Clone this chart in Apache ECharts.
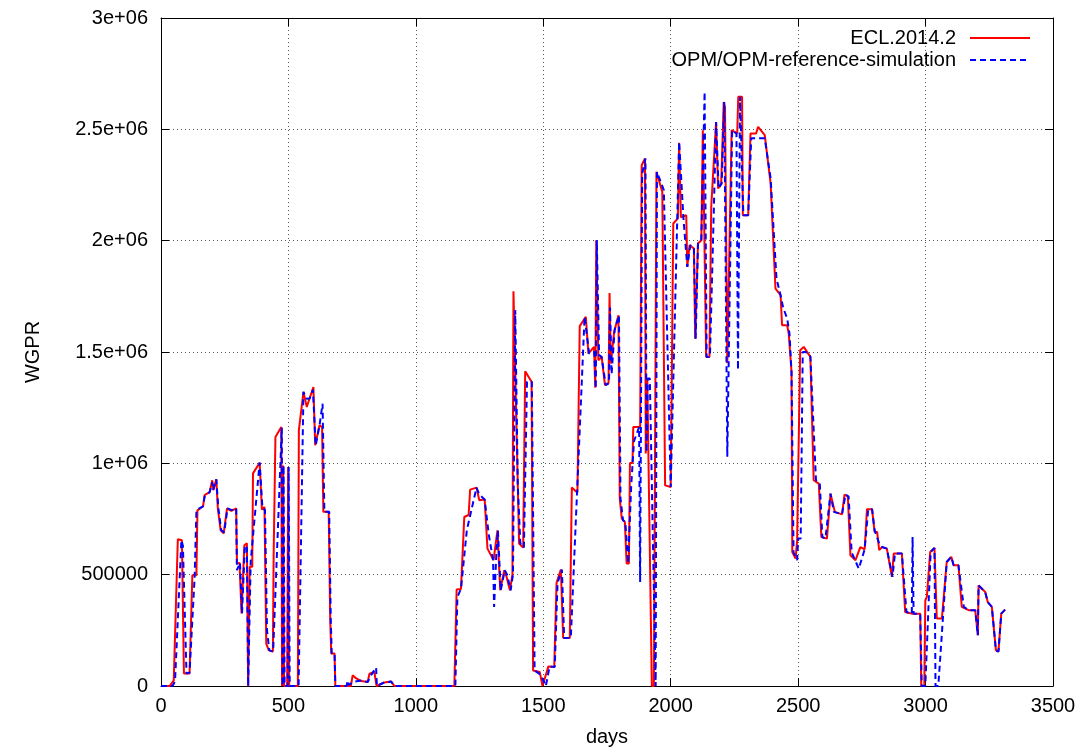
<!DOCTYPE html>
<html><head><meta charset="utf-8">
<script src="https://cdn.jsdelivr.net/npm/echarts@6/dist/echarts.min.js"></script>
<style>html,body{margin:0;padding:0;background:#fff}#c{width:1086px;height:754px}</style>
</head><body><div id="c"></div>
<script>
const seriesNames = ['ECL.2014.2', 'OPM/OPM-reference-simulation'];
const xLabel = 'days';
const yLabel = 'WGPR';
const xTicks = [0, 500, 1000, 1500, 2000, 2500, 3000, 3500];
const yTicks = [0, 500000, 1000000, 1500000, 2000000, 2500000, 3000000];

const ecl = [[0,0],[34,0],[50,25000],[66,659000],[82,655000],[90,56000],[112,56000],[123,497000],[139,497000],[143,789000],[165,807000],[171,857000],[191,871000],[201,924000],[205,880000],[217,928000],[223,798000],[234,699000],[246,686000],[259,798000],[276,786000],[295,798000],[298,551000],[308,553000],[316,326000],[327,632000],[337,641000],[342,0],[348,535000],[358,535000],[361,955000],[387,1003000],[396,792000],[406,804000],[413,190000],[423,160000],[439,155000],[442,587000],[449,1118000],[472,1163000],[475,0],[479,990000],[483,0],[495,0],[499,983000],[503,0],[537,0],[541,1149000],[559,1321000],[572,1253000],[583,1291000],[598,1343000],[605,1081000],[622,1171000],[632,1163000],[637,782000],[658,782000],[664,295000],[668,146000],[681,146000],[684,0],[745,0],[752,48000],[765,35000],[785,22000],[811,18000],[818,55000],[837,63000],[846,0],[876,16000],[903,20000],[916,0],[1151,0],[1160,433000],[1177,436000],[1190,759000],[1207,768000],[1213,882000],[1238,891000],[1249,834000],[1270,838000],[1281,617000],[1288,617000],[1305,565000],[1320,699000],[1331,430000],[1347,520000],[1356,490000],[1369,430000],[1379,500000],[1383,1773000],[1405,640000],[1421,622000],[1429,1414000],[1454,1366000],[1460,70000],[1486,63000],[1497,0],[1520,88000],[1543,85000],[1552,463000],[1569,523000],[1578,216000],[1604,216000],[1612,891000],[1634,868000],[1643,1616000],[1667,1658000],[1677,1493000],[1699,1523000],[1704,1340000],[1708,2002000],[1716,1463000],[1729,1478000],[1742,1351000],[1756,1360000],[1760,1765000],[1765,1448000],[1778,1590000],[1795,1665000],[1800,842000],[1808,752000],[1820,737000],[1827,550000],[1836,550000],[1840,1002000],[1850,1002000],[1853,1163000],[1880,1163000],[1886,2339000],[1899,2369000],[1902,1044000],[1908,1381000],[1915,1381000],[1926,0],[1934,0],[1944,2309000],[1967,2219000],[1978,901000],[2000,894000],[2010,2077000],[2028,2100000],[2033,2440000],[2040,2105000],[2061,2114000],[2065,1882000],[2074,1980000],[2091,1965000],[2096,1560000],[2107,1987000],[2120,2002000],[2126,2496000],[2131,2500000],[2139,1478000],[2152,1478000],[2159,2152000],[2178,2533000],[2186,2234000],[2198,2257000],[2208,2623000],[2213,2600000],[2222,1450000],[2239,2496000],[2261,2481000],[2265,2646000],[2280,2646000],[2283,2114000],[2304,2114000],[2313,2481000],[2335,2481000],[2343,2511000],[2369,2474000],[2392,2257000],[2411,1785000],[2431,1755000],[2437,1620000],[2457,1620000],[2463,1583000],[2474,1411000],[2477,602000],[2490,572000],[2496,654000],[2503,654000],[2508,1508000],[2522,1523000],[2548,1478000],[2561,924000],[2581,909000],[2591,669000],[2613,662000],[2627,864000],[2644,782000],[2672,771000],[2682,860000],[2695,851000],[2705,587000],[2725,565000],[2744,624000],[2761,614000],[2770,794000],[2790,794000],[2800,692000],[2810,692000],[2818,610000],[2829,624000],[2848,617000],[2868,490000],[2875,595000],[2907,595000],[2920,332000],[2946,325000],[2979,325000],[2983,0],[2995,0],[2999,385000],[3005,400000],[3018,602000],[3035,620000],[3044,303000],[3064,303000],[3083,557000],[3101,580000],[3110,542000],[3129,542000],[3142,355000],[3171,340000],[3195,340000],[3205,228000],[3208,452000],[3234,422000],[3244,377000],[3260,355000],[3276,160000],[3286,155000],[3297,325000],[3312,343000]];

const opm = [[0,0],[45,0],[55,20000],[80,655000],[86,630000],[100,56000],[112,60000],[132,490000],[139,790000],[165,807000],[171,850000],[191,871000],[201,915000],[205,880000],[217,928000],[225,800000],[236,700000],[248,690000],[261,798000],[278,790000],[295,798000],[298,520000],[310,553000],[318,326000],[329,632000],[337,620000],[342,0],[352,560000],[387,1003000],[398,800000],[408,790000],[416,250000],[425,160000],[440,155000],[474,1160000],[477,0],[481,990000],[485,0],[497,0],[501,983000],[505,0],[540,0],[559,1321000],[572,1290000],[583,1291000],[596,1330000],[607,1081000],[622,1171000],[634,1268000],[641,782000],[660,782000],[666,300000],[670,146000],[681,146000],[684,0],[728,0],[733,25000],[736,5000],[760,20000],[785,25000],[811,18000],[825,50000],[844,83000],[847,0],[876,16000],[903,20000],[916,0],[1155,0],[1163,400000],[1177,436000],[1200,700000],[1238,891000],[1249,860000],[1270,838000],[1286,680000],[1303,565000],[1307,355000],[1316,600000],[1322,699000],[1333,430000],[1349,520000],[1358,500000],[1372,430000],[1381,500000],[1390,1688000],[1400,900000],[1410,640000],[1424,622000],[1436,1366000],[1455,1366000],[1466,70000],[1490,50000],[1510,0],[1525,88000],[1545,85000],[1556,463000],[1573,523000],[1582,216000],[1608,216000],[1662,1658000],[1680,1493000],[1700,1500000],[1706,1336000],[1710,2002000],[1719,1486000],[1729,1478000],[1745,1351000],[1758,1360000],[1762,1700000],[1768,1400000],[1780,1600000],[1797,1665000],[1803,842000],[1813,744000],[1822,737000],[1833,550000],[1845,900000],[1856,1100000],[1876,1163000],[1880,467000],[1888,2300000],[1901,2369000],[1905,1050000],[1910,1381000],[1918,1381000],[1941,0],[1946,2309000],[1973,2227000],[2000,894000],[2033,2444000],[2050,2100000],[2065,1882000],[2077,1980000],[2091,1965000],[2098,1560000],[2107,1987000],[2120,2002000],[2133,2668000],[2141,1478000],[2154,1478000],[2166,2000000],[2178,2533000],[2188,2234000],[2200,2257000],[2210,2623000],[2222,1030000],[2241,2496000],[2258,2481000],[2264,1420000],[2272,2646000],[2285,2114000],[2304,2114000],[2316,2460000],[2343,2460000],[2369,2460000],[2392,2280000],[2415,1830000],[2431,1755000],[2441,1700000],[2457,1650000],[2466,1583000],[2474,1411000],[2482,600000],[2496,565000],[2500,662000],[2510,662000],[2518,1500000],[2530,1500000],[2548,1480000],[2570,924000],[2585,909000],[2595,669000],[2607,662000],[2627,864000],[2640,782000],[2672,771000],[2686,860000],[2698,851000],[2710,600000],[2738,527000],[2761,614000],[2775,794000],[2790,794000],[2800,700000],[2818,640000],[2829,624000],[2848,617000],[2870,490000],[2880,595000],[2907,595000],[2925,332000],[2946,325000],[2949,669000],[2953,325000],[2979,325000],[2985,0],[2999,0],[3020,602000],[3035,620000],[3039,0],[3050,0],[3083,557000],[3101,580000],[3110,542000],[3129,542000],[3150,355000],[3171,340000],[3195,340000],[3205,228000],[3208,452000],[3234,422000],[3244,377000],[3260,355000],[3276,160000],[3286,155000],[3297,325000],[3312,343000]];

const FONT = 'Liberation Sans, Arial, sans-serif';
function yFmt(v) {
  if (v === 0) return '0';
  if (v < 1000000) return String(v);
  return (v / 1000000) + 'e+06';
}
const tickStyle = {inside: true, length: 8, lineStyle: {color: '#000', width: 1}};
const lineAx = {show: true, onZero: false, lineStyle: {color: '#000', width: 1}};
const grid = {show: true, lineStyle: {color: '#555', width: 1, type: [1, 3]}};

const chart = echarts.init(document.getElementById('c'), null, {renderer: 'canvas'});
chart.setOption({
  animation: false,
  backgroundColor: '#fff',
  grid: {left: 161, right: 33, top: 18, bottom: 68},
  legend: {
    orient: 'vertical', right: 50, top: 23, align: 'right',
    itemWidth: 60, itemHeight: 14, itemGap: 2,
    itemStyle: {opacity: 0},
    textStyle: {fontSize: 20, fontFamily: FONT, color: '#000', padding: [0, 9, 0, 0]},
    data: seriesNames
  },
  xAxis: [
    {type: 'value', min: xTicks[0], max: xTicks[xTicks.length - 1], interval: 500,
     axisLine: lineAx, axisTick: tickStyle, splitLine: grid,
     axisLabel: {color: '#000', fontSize: 20, fontFamily: FONT, margin: 10, formatter: v => String(v)},
     name: xLabel, nameLocation: 'middle', nameGap: 41,
     nameTextStyle: {color: '#000', fontSize: 20, fontFamily: FONT}},
    {type: 'value', position: 'top', min: xTicks[0], max: xTicks[xTicks.length - 1], interval: 500,
     axisLine: lineAx, axisTick: tickStyle, splitLine: {show: false}, axisLabel: {show: false}}
  ],
  yAxis: [
    {type: 'value', min: yTicks[0], max: yTicks[yTicks.length - 1], interval: 500000,
     axisLine: lineAx, axisTick: tickStyle, splitLine: grid,
     axisLabel: {color: '#000', fontSize: 20, fontFamily: FONT, margin: 13, formatter: yFmt},
     name: yLabel, nameLocation: 'middle', nameGap: 118, nameRotate: 90,
     nameTextStyle: {color: '#000', fontSize: 20, fontFamily: FONT}},
    {type: 'value', position: 'right', min: yTicks[0], max: yTicks[yTicks.length - 1], interval: 500000,
     axisLine: lineAx, axisTick: tickStyle, splitLine: {show: false}, axisLabel: {show: false}}
  ],
  series: [
    {name: seriesNames[0], type: 'line', data: ecl, symbol: 'none', showSymbol: false,
     lineStyle: {color: '#ff0000', width: 2}, itemStyle: {color: '#ff0000'}, z: 2},
    {name: seriesNames[1], type: 'line', data: opm, symbol: 'none', showSymbol: false,
     lineStyle: {color: '#0000ff', width: 2, type: [6, 4]}, itemStyle: {color: '#0000ff'}, z: 3}
  ]
});
</script></body></html>
